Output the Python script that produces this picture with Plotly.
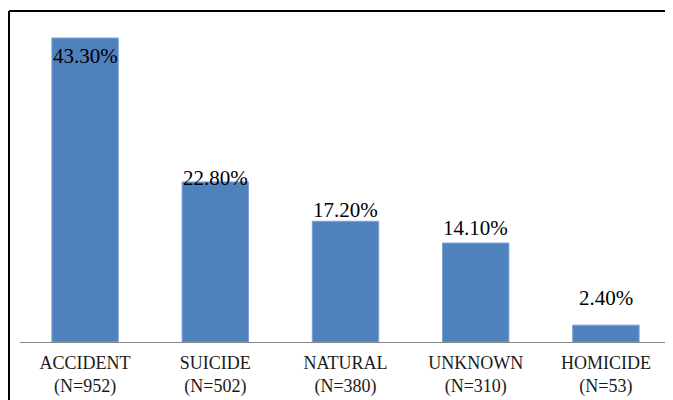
import plotly.graph_objects as go

categories = ["ACCIDENT", "SUICIDE", "NATURAL", "UNKNOWN", "HOMICIDE"]
counts = [952, 502, 380, 310, 53]
percents = [43.3, 22.8, 17.2, 14.1, 2.4]

# style: vertical pixel offset of each value label relative to bar top
label_shift = [-18, 4, 11, 15, 27]

tick_text = [f"{c}<br>(N={n})" for c, n in zip(categories, counts)]
SERIF = "Times New Roman, Liberation Serif, DejaVu Serif, serif"

fig = go.Figure()
fig.add_trace(go.Bar(
    x=categories,
    y=percents,
    marker=dict(color="#4F81BD", line=dict(color="#7EA1D3", width=1)),
    width=0.51,
    hoverinfo="skip",
))

for c, p, s in zip(categories, percents, label_shift):
    fig.add_annotation(
        x=c, y=p, text=f"{p:.2f}%", showarrow=False,
        yshift=s, yanchor="middle",
        font=dict(family=SERIF, size=21, color="black"),
    )

# page body has an 8px margin; figure is sized so it fills the window
W, H = 665, 392
L, R, T, B = 12, 2, 12, 58
pw, ph = W - L - R, H - T - B

bx = (1 - L) / pw
by = (H - B - 3) / ph
border = dict(color="black", width=2)
fig.add_shape(type="line", xref="paper", yref="paper",
              x0=bx, x1=1.2, y0=by, y1=by, line=border, layer="above")
fig.add_shape(type="line", xref="paper", yref="paper",
              x0=bx, x1=bx, y0=-0.3, y1=by, line=border, layer="above")

fig.update_layout(
    width=W, height=H,
    margin=dict(l=L, r=R, t=T, b=B, autoexpand=False),
    paper_bgcolor="white", plot_bgcolor="white",
    showlegend=False,
    xaxis=dict(
        tickmode="array", tickvals=categories, ticktext=tick_text,
        showline=True, linecolor="#868686", linewidth=1,
        ticks="", showgrid=False, zeroline=False,
        automargin=False,
        ticklabelstandoff=4,
        tickfont=dict(family=SERIF, size=18, color="#1a1a1a"),
    ),
    yaxis=dict(
        range=[0, ph / 7.02], showticklabels=False, showgrid=False,
        zeroline=False, showline=False, ticks="", automargin=False,
    ),
)

fig.write_html("out.html")
